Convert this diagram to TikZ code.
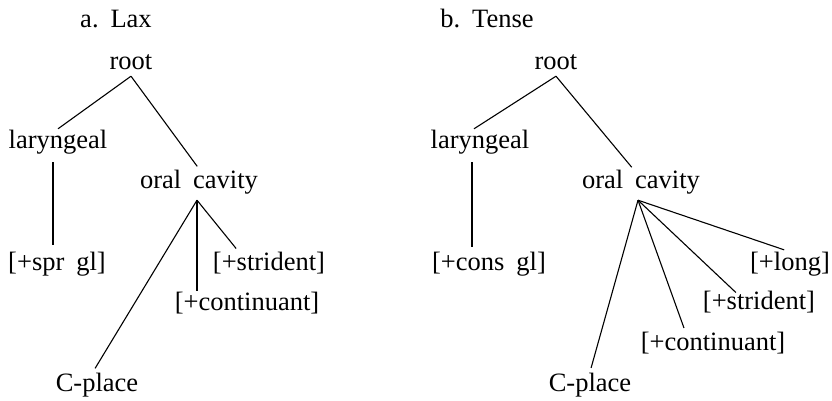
\documentclass[tikz,border=0pt]{standalone}
\usepackage{fontspec}
\setmainfont{Liberation Serif}
\newcommand{\wsp}{\hspace{0.45em}}
\begin{document}
\begin{tikzpicture}[x=1pt,y=-1pt,
  lbl/.style={font=\fontsize{26.5}{30}\selectfont, inner sep=0pt,
    text height=19pt, text depth=6pt, anchor=base},
  edge/.style={line width=1.1pt}]
\useasboundingbox (0,0) rectangle (832,401);

% ---------- a. Lax ----------
\node[lbl] (ta)    at (116,28)  {a.\wsp Lax};
\node[lbl] (rootA) at (131,70)  {root};
\node[lbl] (larA)  at (58,148)  {laryngeal};
\node[lbl] (ocA)   at (199,188) {oral\wsp cavity};
\node[lbl] (sprA)  at (57,270)  {[+spr\wsp gl]};
\node[lbl] (strA)  at (269,270) {[+strident]};
\node[lbl] (conA)  at (247,310) {[+continuant]};
\node[lbl] (cplA)  at (97,391)  {C-place};

\coordinate (brA) at ([xshift=-2pt,yshift=-6pt]ocA.south);

\draw[edge] (rootA.south) -- (larA.north);
\draw[edge, shorten >=3pt] (rootA.south) -- (ocA.north);
\draw[edge, shorten <=8pt, shorten >=6pt] ([xshift=-5pt]larA.south) -- ([xshift=-4pt]sprA.north);
\draw[edge, shorten >=4pt] (brA) -- ([xshift=-4pt]cplA.north);
\draw[edge] (brA) -- (brA |- conA.north);
\draw[edge, shorten >=3pt] (brA) -- ([xshift=-31pt]strA.north);

% ---------- b. Tense ----------
\node[lbl] (tb)    at (487,28)  {b.\wsp Tense};
\node[lbl] (rootB) at (556,70)  {root};
\node[lbl] (larB)  at (480,148) {laryngeal};
\node[lbl] (ocB)   at (641,188) {oral\wsp cavity};
\node[lbl] (consB) at (489,270) {[+cons\wsp gl]};
\node[lbl] (lngB)  at (790,270) {[+long]};
\node[lbl] (strB)  at (759,309) {[+strident]};
\node[lbl] (conB)  at (713,350) {[+continuant]};
\node[lbl] (cplB)  at (590,391) {C-place};

\coordinate (brB) at ([xshift=-3pt,yshift=-6pt]ocB.south);

\draw[edge] (rootB.south) -- ([xshift=-6pt]larB.north);
\draw[edge, shorten >=2pt] (rootB.south) -- ([xshift=-8pt]ocB.north);
\draw[edge, shorten <=8pt, shorten >=4pt] ([xshift=-8pt]larB.south) -- ([xshift=-17pt]consB.north);
\draw[edge, shorten >=4pt] (brB) -- (cplB.north);
\draw[edge, shorten >=3pt] (brB) -- ([xshift=-28pt]conB.north);
\draw[edge, shorten >=-4pt] (brB) -- ([xshift=-26pt]strB.north);
\draw[edge, shorten >=3pt] (brB) -- ([xshift=-3pt]lngB.north);
\end{tikzpicture}
\end{document}
